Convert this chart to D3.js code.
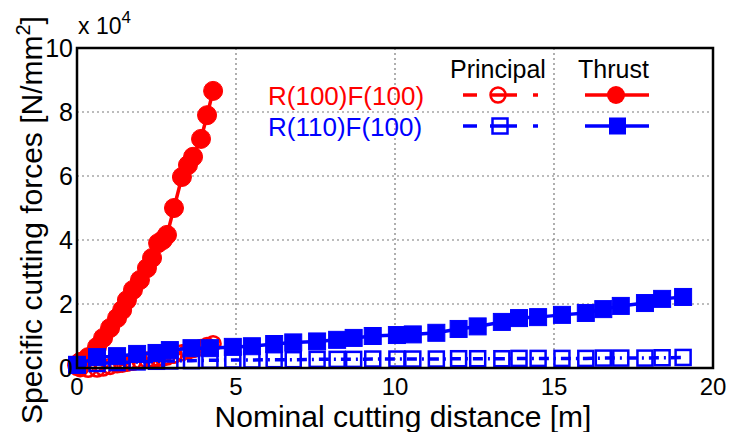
<!DOCTYPE html>
<html>
<head>
<meta charset="utf-8">
<script src="https://cdn.jsdelivr.net/npm/d3@7"></script>
<style>
  html, body { margin: 0; padding: 0; background: #fff; }
  svg text { font-family: "Liberation Sans", Arial, sans-serif; }
</style>
</head>
<body>
<svg id="chart" width="734" height="432"></svg>
<script>
// Specific cutting forces (in units of 10^4 N/mm^2) versus nominal cutting distance [m]

// R(100)F(100) — thrust force
const redThrustX = [0, 0.1, 0.35, 0.63, 0.82, 1.04, 1.26, 1.42, 1.57, 1.76, 1.98, 2.2, 2.36, 2.55, 2.7, 2.83, 3.05, 3.3, 3.49, 3.65, 3.9, 4.09, 4.28];
const redThrustY = [0.1, 0.19, 0.34, 0.66, 0.94, 1.25, 1.56, 1.81, 2.12, 2.44, 2.75, 3.12, 3.44, 3.9, 4.0, 4.16, 5.0, 5.97, 6.34, 6.6, 7.16, 7.9, 8.66];

// R(100)F(100) — principal force
const redPrincipalX = [0, 0.1, 0.35, 0.63, 0.82, 1.04, 1.26, 1.42, 1.57, 1.76, 1.98, 2.2, 2.36, 2.55, 2.7, 2.83, 3.05, 3.3, 3.49, 3.65, 3.9, 4.09, 4.28];
const redPrincipalY = [0.02, -0.02, -0.04, -0.03, 0.0, 0.05, 0.1, 0.12, 0.15, 0.18, 0.22, 0.25, 0.27, 0.3, 0.32, 0.34, 0.4, 0.48, 0.53, 0.58, 0.64, 0.7, 0.76];

// R(110)F(100) — thrust force
const blueThrustX = [0, 0.63, 1.26, 1.89, 2.5, 2.92, 3.6, 4.18, 4.9, 5.5, 6.2, 6.8, 7.55, 8.18, 8.7, 9.3, 10.06, 10.56, 11.3, 12.0, 12.6, 13.36, 13.9, 14.5, 15.25, 16.0, 16.55, 17.1, 17.86, 18.4, 19.06];
const blueThrustY = [0.1, 0.34, 0.37, 0.44, 0.47, 0.56, 0.62, 0.62, 0.66, 0.68, 0.75, 0.8, 0.83, 0.88, 0.94, 1.0, 1.03, 1.05, 1.1, 1.22, 1.3, 1.44, 1.56, 1.59, 1.66, 1.72, 1.84, 1.94, 2.03, 2.16, 2.22];

// R(110)F(100) — principal force
const bluePrincipalX = [0, 0.63, 1.26, 1.89, 2.5, 2.92, 3.6, 4.18, 4.9, 5.5, 6.2, 6.8, 7.55, 8.18, 8.7, 9.3, 10.06, 10.56, 11.3, 12.0, 12.6, 13.36, 13.9, 14.5, 15.25, 16.0, 16.55, 17.1, 17.86, 18.4, 19.06];
const bluePrincipalY = [0.1, 0.14, 0.17, 0.19, 0.21, 0.22, 0.23, 0.24, 0.25, 0.25, 0.26, 0.26, 0.27, 0.27, 0.27, 0.28, 0.28, 0.28, 0.28, 0.29, 0.29, 0.29, 0.3, 0.3, 0.3, 0.3, 0.31, 0.31, 0.31, 0.32, 0.33];

const xTicks = [0, 5, 10, 15, 20];
const yTicks = [0, 2, 4, 6, 8, 10];
const seriesNames = ["R(100)F(100)", "R(110)F(100)"];
const forceNames = ["Principal", "Thrust"];

const RED = "#ff0000";
const BLUE = "#0000ff";

const svg = d3.select("#chart");
const plotL = 77, plotT = 48, plotR = 713, plotB = 368;

const x = d3.scaleLinear().domain([0, 20]).range([plotL, plotR]);
const y = d3.scaleLinear().domain([0, 10]).range([plotB, plotT]);

// grid
const grid = svg.append("g");
grid.selectAll("line.vg").data(xTicks.filter(t => t > 0 && t < 20)).join("line")
  .attr("x1", d => x(d)).attr("x2", d => x(d)).attr("y1", plotT).attr("y2", plotB)
  .attr("stroke", "#7a7a7a").attr("stroke-width", 1.2).attr("stroke-dasharray", "2,3");
grid.selectAll("line.hg").data(yTicks.filter(t => t > 0 && t < 10)).join("line")
  .attr("x1", plotL).attr("x2", plotR).attr("y1", d => y(d)).attr("y2", d => y(d))
  .attr("stroke", "#7a7a7a").attr("stroke-width", 1.2).attr("stroke-dasharray", "2,3");

const zip = (xs, ys) => xs.map((v, i) => [v, ys[i]]);
const line = d3.line().x(d => x(d[0])).y(d => y(d[1]));

function drawSeries(points, color, dashed, marker, filled) {
  const g = svg.append("g");
  g.append("path").datum(points)
    .attr("d", line).attr("fill", "none").attr("stroke", color)
    .attr("stroke-width", 3.5)
    .attr("stroke-dasharray", dashed ? "10,5,2,5" : null);
  if (marker === "circle") {
    g.selectAll("circle").data(points).join("circle")
      .attr("cx", d => x(d[0])).attr("cy", d => y(d[1]))
      .attr("r", filled ? 9.5 : 7.5)
      .attr("fill", filled ? color : "none")
      .attr("stroke", color).attr("stroke-width", filled ? 1 : 2.5);
  } else {
    const s = filled ? 17 : 15;
    g.selectAll("rect").data(points).join("rect")
      .attr("x", d => x(d[0]) - s / 2).attr("y", d => y(d[1]) - s / 2)
      .attr("width", s).attr("height", s)
      .attr("fill", filled ? color : "none")
      .attr("stroke", color).attr("stroke-width", filled ? 1 : 2.5);
  }
}

drawSeries(zip(redPrincipalX, redPrincipalY), RED, true, "circle", false);
drawSeries(zip(redThrustX, redThrustY), RED, false, "circle", true);
drawSeries(zip(bluePrincipalX, bluePrincipalY), BLUE, true, "square", false);
drawSeries(zip(blueThrustX, blueThrustY), BLUE, false, "square", true);

// axes box
svg.append("rect").attr("x", plotL).attr("y", plotT)
  .attr("width", plotR - plotL).attr("height", plotB - plotT)
  .attr("fill", "none").attr("stroke", "#000").attr("stroke-width", 2.5);

// tick labels
svg.append("g").selectAll("text").data(xTicks).join("text")
  .attr("x", d => x(d)).attr("y", 395)
  .attr("text-anchor", "middle").attr("font-size", 24).attr("fill", "#000")
  .text(d => d);
svg.append("g").selectAll("text").data(yTicks).join("text")
  .attr("x", 73).attr("y", d => y(d) + 9)
  .attr("text-anchor", "end").attr("font-size", 25).attr("fill", "#000")
  .text(d => d);

// exponent
const ex = svg.append("text").attr("x", 78).attr("y", 34).attr("font-size", 23).attr("fill", "#000");
ex.append("tspan").text("x 10");
ex.append("tspan").attr("dy", -11).attr("font-size", 17).text("4");

// axis titles
svg.append("text").attr("x", (plotL + plotR) / 2 + 8).attr("y", 427)
  .attr("text-anchor", "middle").attr("font-size", 30).attr("fill", "#000")
  .text("Nominal cutting distance [m]");
const yl = svg.append("text")
  .attr("transform", "translate(42,220) rotate(-90)")
  .attr("text-anchor", "middle").attr("font-size", 30).attr("fill", "#000");
yl.append("tspan").text("Specific cutting forces [N/mm");
yl.append("tspan").attr("dy", -12).attr("font-size", 20).text("2");
yl.append("tspan").attr("dy", 12).text("]");

// legend
const leg = svg.append("g");
leg.selectAll("text.h").data(forceNames).join("text")
  .attr("x", (d, i) => [450, 578][i]).attr("y", 78)
  .attr("font-size", 25).attr("fill", "#000").text(d => d);
const rowsY = [95, 126];
const colors = [RED, BLUE];
leg.selectAll("text.s").data(seriesNames).join("text")
  .attr("x", 268).attr("y", (d, i) => rowsY[i] + 10)
  .attr("font-size", 26).attr("fill", (d, i) => colors[i]).text(d => d);

seriesNames.forEach((name, i) => {
  const ly = rowsY[i], c = colors[i];
  // principal sample: dash-dot line with open marker
  [[463, 477], [490, 517], [533, 538]].forEach(seg => {
    leg.append("line").attr("x1", seg[0]).attr("x2", seg[1]).attr("y1", ly).attr("y2", ly)
      .attr("stroke", c).attr("stroke-width", 3.5);
  });
  if (i === 0) {
    leg.append("circle").attr("cx", 498).attr("cy", ly).attr("r", 7.5)
      .attr("fill", "none").attr("stroke", c).attr("stroke-width", 2.5);
  } else {
    leg.append("rect").attr("x", 492.5).attr("y", ly - 7.5).attr("width", 15).attr("height", 15)
      .attr("fill", "none").attr("stroke", c).attr("stroke-width", 2.5);
  }
  // thrust sample: solid line with filled marker
  leg.append("line").attr("x1", 585).attr("x2", 649).attr("y1", ly).attr("y2", ly)
    .attr("stroke", c).attr("stroke-width", 3.5);
  if (i === 0) {
    leg.append("circle").attr("cx", 616).attr("cy", ly).attr("r", 9).attr("fill", c);
  } else {
    leg.append("rect").attr("x", 609).attr("y", ly - 8.5).attr("width", 17).attr("height", 17).attr("fill", c);
  }
});
</script>
</body>
</html>
